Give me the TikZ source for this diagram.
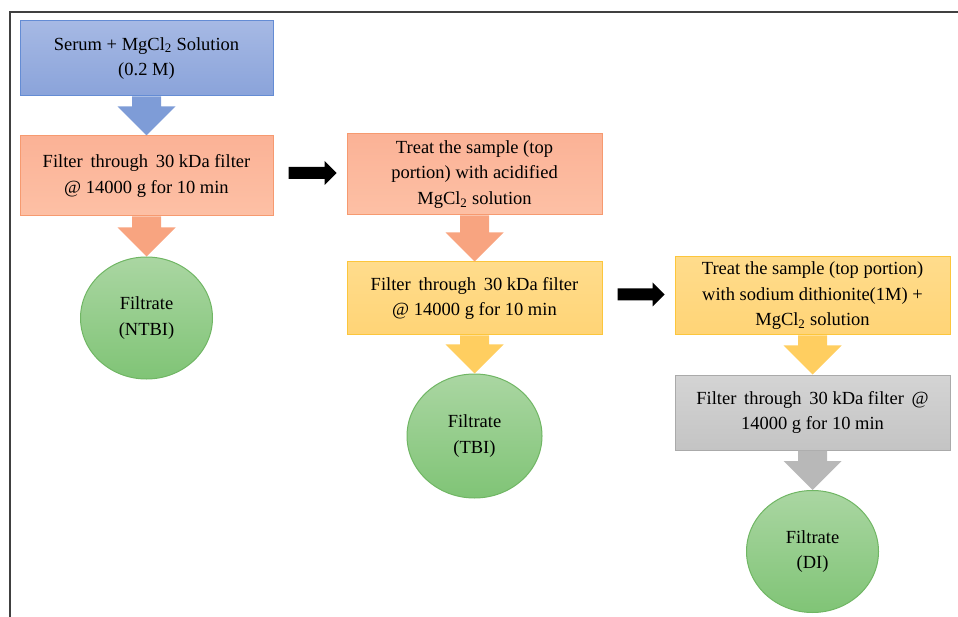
\documentclass[tikz,border=0pt]{standalone}
\usepackage{fontspec}
\setmainfont{Liberation Serif}
\usetikzlibrary{calc,shapes.geometric}
\definecolor{blueA}{RGB}{166,185,228}
\definecolor{blueB}{RGB}{138,163,218}
\definecolor{blueD}{RGB}{100,140,212}
\definecolor{blueF}{RGB}{126,156,215}
\definecolor{orangeA}{RGB}{251,178,150}
\definecolor{orangeB}{RGB}{253,192,165}
\definecolor{orangeD}{RGB}{246,154,112}
\definecolor{orangeF}{RGB}{248,164,128}
\definecolor{yellowA}{RGB}{255,220,140}
\definecolor{yellowB}{RGB}{255,212,118}
\definecolor{yellowD}{RGB}{252,198,60}
\definecolor{yellowF}{RGB}{255,206,96}
\definecolor{greyA}{RGB}{212,212,212}
\definecolor{greyB}{RGB}{196,196,196}
\definecolor{greyD}{RGB}{170,170,170}
\definecolor{greyF}{RGB}{184,184,184}
\definecolor{greenA}{RGB}{170,214,162}
\definecolor{greenB}{RGB}{128,196,118}
\definecolor{greenD}{RGB}{112,182,100}
\newcommand{\mgcl}{MgCl\textsubscript{2}}
% block arrow from one box down to the next
\newcommand{\downblock}[3]{\fill[#3] let \p1=(#1.south), \p2=(#2.north) in
	(\x1-14.5pt,\y1) -- (\x1+14.5pt,\y1) -- (\x1+14.5pt,\y2+29pt) -- (\x1+29pt,\y2+29pt)
	-- (\x1,\y2) -- (\x1-29pt,\y2+29pt) -- (\x1-14.5pt,\y2+29pt) -- cycle;}
% black arrow from one column to the next
\newcommand{\rightblock}[2]{\fill let \p1=(#1.east), \p2=(#2.west) in
	(\x1+15pt,\y2+7.5pt) -- (\x2-22pt,\y2+7.5pt) -- (\x2-22pt,\y2+13.5pt) -- (\x2-10pt,\y2+1.5pt)
	-- (\x2-22pt,\y2-10.5pt) -- (\x2-22pt,\y2-4.5pt) -- (\x1+15pt,\y2-4.5pt) -- cycle;}
\begin{document}
\begin{tikzpicture}[x=1pt,y=-1pt,
	every node/.style={font=\fontsize{18.5}{25.5}\selectfont, align=center, inner sep=0pt},
	stage/.style={rectangle, draw=#1D, line width=1pt, top color=#1A, bottom color=#1B},
	filtrate/.style={ellipse, draw=greenD, line width=1pt, top color=greenA, bottom color=greenB,
		minimum width=132pt, minimum height=122pt}]
\useasboundingbox (0,0) rectangle (958,617);
\draw [line width=1.5pt, draw=black!75] (10,617) -- (10,12) -- (958,12);
\node (serum) [stage=blue, minimum width=253pt, minimum height=75pt] at (146.5,58.5) {Serum + \mgcl{} Solution\\(0.2 M)};
\node (filt1) [stage=orange, minimum width=253pt, minimum height=80pt] at (146.5,176) {Filter\, through\,  30 kDa filter\\@ 14000 g for 10 min};
\node (ntbi) [filtrate] at (146.5,318) {Filtrate\\(NTBI)};
\node (acid) [stage=orange, minimum width=255pt, minimum height=81pt] at (474.5,174.5) {Treat the sample (top\\portion) with acidified\\\mgcl{} solution};
\node (filt2) [stage=yellow, minimum width=255pt, minimum height=73pt] at (474.5,298.5) {Filter\, through\,  30 kDa filter\\@ 14000 g for 10 min};
\node (tbi) [filtrate, minimum width=135pt, minimum height=124pt] at (474.5,436) {Filtrate\\(TBI)};
\node (dithio) [stage=yellow, minimum width=275pt, minimum height=78pt] at (812.5,296) {Treat the sample (top portion)\\with sodium dithionite(1M) +\\\mgcl{} solution};
\node (filt3) [stage=grey, minimum width=275pt, minimum height=75pt] at (812.5,412.5) {Filter\, through\,  30 kDa filter\, @\\14000 g for 10 min};
\node (di) [filtrate] at (812.5,551.5) {Filtrate\\(DI)};
\downblock{serum}{filt1}{blueF}
\downblock{filt1}{ntbi}{orangeF}
\downblock{acid}{filt2}{orangeF}
\downblock{filt2}{tbi}{yellowF}
\downblock{dithio}{filt3}{yellowF}
\downblock{filt3}{di}{greyF}
\rightblock{filt1}{acid}
\rightblock{filt2}{dithio}
\end{tikzpicture}
\end{document}
